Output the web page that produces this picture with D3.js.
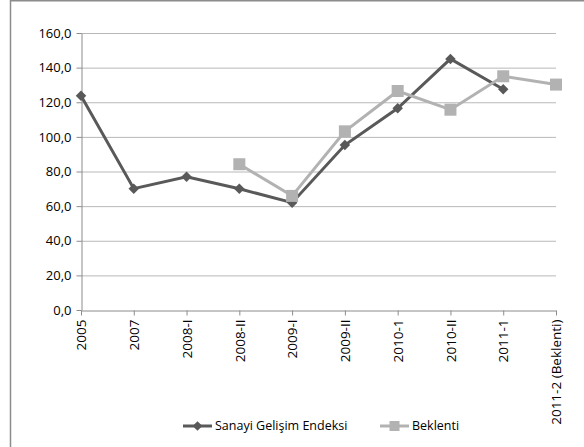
<!DOCTYPE html>
<html>
<head>
<meta charset="utf-8">
<script src="https://cdn.jsdelivr.net/npm/d3@7"></script>
<style>
  body { margin: 0; background: #fff; }
  text { font-family: "Open Sans", "Noto Sans", sans-serif; fill: #000; }
</style>
</head>
<body>
<div id="chart"></div>
<script>
// categories on the x axis
var categories = ["2005", "2007", "2008-I", "2008-II", "2009-I", "2009-II", "2010-1", "2010-II", "2011-1", "2011-2 (Beklenti)"];
// Sanayi Gelişim Endeksi (null = no value)
var sanayi = [123.8, 70.1, 77.0, 70.0, 62.0, 95.3, 116.5, 145.0, 127.5, null];
// Beklenti
var beklenti = [null, null, null, 84.2, 65.9, 103.2, 126.5, 115.7, 135.0, 130.2];
var yTicks = [0, 20, 40, 60, 80, 100, 120, 140, 160];

var W = 584, H = 447;
var svg = d3.select("#chart").append("svg")
    .attr("width", W)
    .attr("height", H);

// outer frame (top and left edges show)
svg.append("line").attr("x1", 10.5).attr("x2", 10.5).attr("y1", 0).attr("y2", H)
    .attr("stroke", "#8c8c8c").attr("stroke-width", 1.5);
svg.append("line").attr("x1", 10).attr("x2", W).attr("y1", 0.75).attr("y2", 0.75)
    .attr("stroke", "#8c8c8c").attr("stroke-width", 1.5);

var plotLeft = 81, plotRight = 556, plotTop = 33, plotBottom = 310;

var x = d3.scalePoint()
    .domain(categories)
    .range([plotLeft, plotRight]);

var y = d3.scaleLinear()
    .domain([0, 160])
    .range([plotBottom, plotTop]);

// gridlines
svg.append("g")
    .selectAll("line")
    .data(yTicks.slice(1))
    .enter()
    .append("line")
    .attr("x1", plotLeft).attr("x2", plotRight)
    .attr("y1", d => y(d) + 0.5).attr("y2", d => y(d) + 0.5)
    .attr("stroke", "#b8b8b8").attr("stroke-width", 1);

// y axis
var yAxis = svg.append("g")
    .attr("transform", "translate(" + (plotLeft + 0.5) + ",0)")
    .call(d3.axisLeft(y).tickValues(yTicks).tickSize(5).tickSizeOuter(0)
        .tickFormat(d => d3.format(".1f")(d).replace(".", ",")));
yAxis.select(".domain").attr("stroke", "#8c8c8c");
yAxis.selectAll(".tick line").attr("stroke", "#8c8c8c");
yAxis.selectAll("text")
    .attr("x", -10)
    .style("font-size", "13px");

// x axis
var xAxis = svg.append("g")
    .attr("transform", "translate(0," + (plotBottom + 0.5) + ")")
    .call(d3.axisBottom(x).tickSize(5).tickSizeOuter(0));
xAxis.select(".domain").attr("stroke", "#8c8c8c");
xAxis.selectAll(".tick line").attr("stroke", "#8c8c8c");
xAxis.selectAll("text")
    .attr("transform", "rotate(-90)")
    .attr("x", -9)
    .attr("y", 0)
    .attr("dy", "0.35em")
    .style("text-anchor", "end")
    .style("font-size", "13.5px");

var line = d3.line()
    .defined(d => d.v !== null)
    .x(d => x(d.c))
    .y(d => y(d.v));

function pts(values) {
    return categories.map((c, i) => ({ c: c, v: values[i] }));
}

var darkColor = "#595959", lightColor = "#b2b2b2";

// Sanayi series
var s1 = pts(sanayi);
svg.append("path")
    .datum(s1)
    .attr("d", line)
    .attr("fill", "none")
    .attr("stroke", darkColor)
    .attr("stroke-width", 3);
svg.append("g")
    .selectAll("path")
    .data(s1.filter(d => d.v !== null))
    .enter()
    .append("path")
    .attr("d", d3.symbol().type(d3.symbolDiamond2).size(70))
    .attr("transform", d => "translate(" + x(d.c) + "," + y(d.v) + ")")
    .attr("fill", darkColor);

// Beklenti series
var s2 = pts(beklenti);
svg.append("path")
    .datum(s2)
    .attr("d", line)
    .attr("fill", "none")
    .attr("stroke", lightColor)
    .attr("stroke-width", 3);
svg.append("g")
    .selectAll("rect")
    .data(s2.filter(d => d.v !== null))
    .enter()
    .append("rect")
    .attr("x", d => x(d.c) - 6)
    .attr("y", d => y(d.v) - 6)
    .attr("width", 12)
    .attr("height", 12)
    .attr("fill", lightColor);

// legend
var legY = 426;
var leg = [
    { name: "Sanayi Gelişim Endeksi", x0: 183, color: darkColor, shape: "diamond" },
    { name: "Beklenti", x0: 380, color: lightColor, shape: "square" }
];
leg.forEach(function(l) {
    svg.append("line")
        .attr("x1", l.x0).attr("x2", l.x0 + 29)
        .attr("y1", legY).attr("y2", legY)
        .attr("stroke", l.color).attr("stroke-width", 3);
    if (l.shape === "diamond") {
        svg.append("path")
            .attr("d", d3.symbol().type(d3.symbolDiamond2).size(60))
            .attr("transform", "translate(" + (l.x0 + 14.5) + "," + legY + ")")
            .attr("fill", l.color);
    } else {
        svg.append("rect")
            .attr("x", l.x0 + 14.5 - 5).attr("y", legY - 5)
            .attr("width", 10).attr("height", 10)
            .attr("fill", l.color);
    }
    svg.append("text")
        .attr("x", l.x0 + 32)
        .attr("y", legY)
        .attr("dy", "0.35em")
        .style("font-size", "12.5px")
        .text(l.name);
});
</script>
</body>
</html>
